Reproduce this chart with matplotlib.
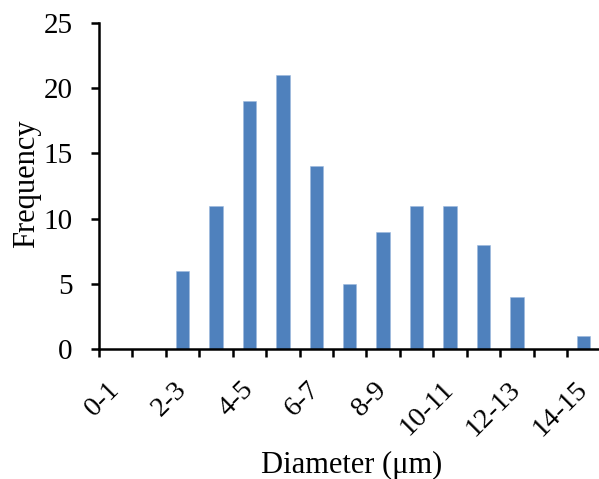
import matplotlib
matplotlib.use("Agg")
import matplotlib.pyplot as plt
import numpy as np

categories = ["0-1", "1-2", "2-3", "3-4", "4-5", "5-6", "6-7", "7-8",
              "8-9", "9-10", "10-11", "11-12", "12-13", "13-14", "14-15"]
frequency = [0, 0, 6, 11, 19, 21, 14, 5, 9, 11, 11, 8, 4, 0, 1]
yticks = [0, 5, 10, 15, 20, 25]

plt.rcParams['font.family'] = ['Liberation Serif', 'DejaVu Serif']

fig = plt.figure(figsize=(5.99, 4.79), dpi=100)
ax = fig.add_axes([99/599, 1-349/479, (600.4-99)/599, (349-23)/479])

x = np.arange(len(categories)) + 0.5
ax.bar(x, frequency, width=0.4, color='#4F81BD', edgecolor='#9DB9DE', linewidth=0.4)

ax.set_xlim(0, len(categories))
ax.set_ylim(0, 25)
ax.set_yticks(yticks)
ax.set_yticklabels([str(v) for v in yticks], fontsize=21)

# labels every other category
ax.set_xticks(x[::2])
ax.set_xticklabels(categories[::2], fontsize=20.5, rotation=45, ha='right',
                   va='center', rotation_mode='anchor')
ax.set_xticks(np.arange(len(categories) + 1), minor=True)
ax.tick_params(axis='x', which='major', length=0, pad=26.5)
ax.tick_params(axis='x', which='minor', length=6, width=1.8, direction='out')
ax.tick_params(axis='y', which='major', length=6, width=1.8, direction='out', pad=13)

for s in ['top', 'right']:
    ax.spines[s].set_visible(False)
for s in ['left', 'bottom']:
    ax.spines[s].set_linewidth(1.8)

fig.text(27/599, 1-184/479, 'Frequency', rotation=90, ha='center', va='center', fontsize=22)
fig.text(352/599, 1-465/479, 'Diameter (μm)', ha='center', va='center', fontsize=22)

fig.savefig('out.png', dpi=100)
